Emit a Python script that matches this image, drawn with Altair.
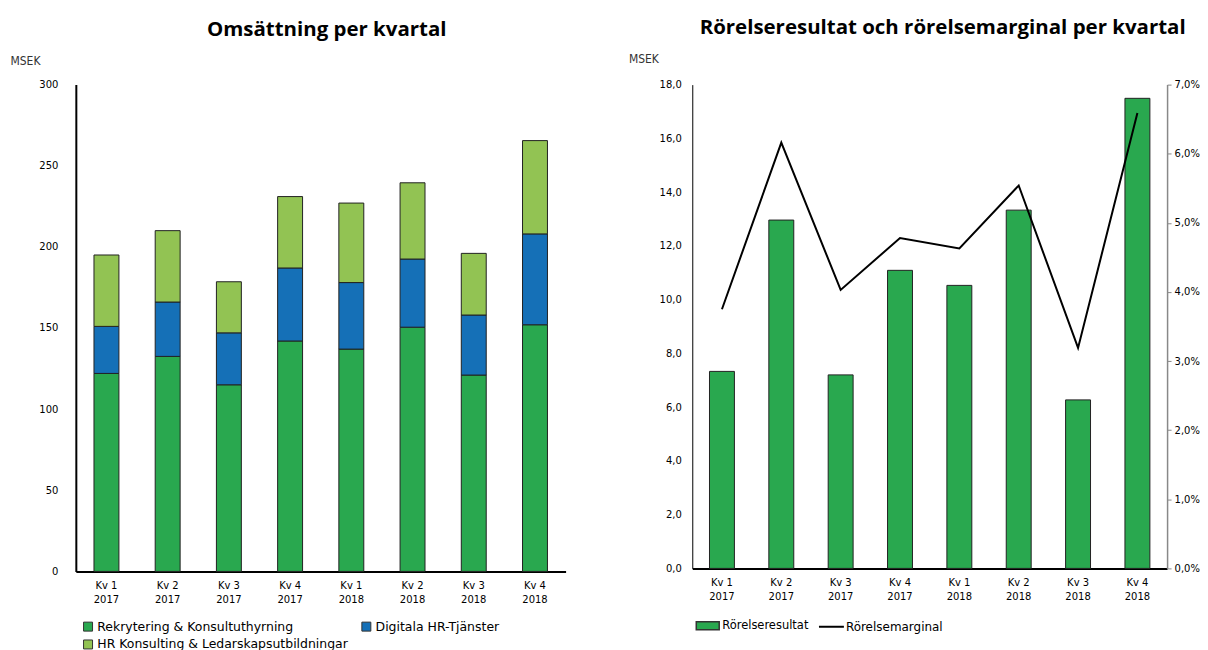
import altair as alt
import pandas as pd

# ---------------- data ----------------
quarters = ["Kv 1|2017", "Kv 2|2017", "Kv 3|2017", "Kv 4|2017",
            "Kv 1|2018", "Kv 2|2018", "Kv 3|2018", "Kv 4|2018"]
segments = ["Rekrytering & Konsultuthyrning", "Digitala HR-Tjänster",
            "HR Konsulting & Ledarskapsutbildningar"]
rekrytering = [122, 132.5, 115, 142, 137, 150.5, 121, 152]
digitala = [29, 33.5, 32, 45, 41, 42, 37, 56]
hr_konsulting = [44, 44, 31.5, 44, 49, 47, 38, 57.5]
segment_colors = ["#29A84F", "#1570B7", "#92C353"]

series_names = ["Rörelseresultat", "Rörelsemarginal"]
rorelseresultat = [7.33, 12.96, 7.20, 11.09, 10.53, 13.33, 6.27, 17.49]
rorelsemarginal = [0.0375, 0.0616, 0.0403, 0.0478, 0.0463, 0.0554, 0.0319, 0.0659]

left_ticks = [0, 50, 100, 150, 200, 250, 300]
right_ticks = [0, 2, 4, 6, 8, 10, 12, 14, 16, 18]
pct_ticks = [0, 0.01, 0.02, 0.03, 0.04, 0.05, 0.06, 0.07]

# ---------------- tables ----------------
rows = []
for i, q in enumerate(quarters):
    for k, (seg, vals) in enumerate(zip(segments, [rekrytering, digitala, hr_konsulting])):
        rows.append({"kvartal": q, "segment": seg, "value": vals[i], "ord": k})
df_seg = pd.DataFrame(rows)

df_r = pd.DataFrame({"kvartal": quarters, "resultat": rorelseresultat,
                     "marginal": rorelsemarginal,
                     "s_bar": [series_names[0]] * len(quarters),
                     "s_line": [series_names[1]] * len(quarters)})

FONT = "DejaVu Sans"
MSEK_FONT = "'DejaVu Sans Condensed', 'Liberation Sans Narrow', Roboto, sans-serif"

x_axis = alt.Axis(title=None, labelAngle=0, labelExpr="split(datum.label, '|')",
                  labelLineHeight=14, ticks=False, labelPadding=9,
                  domainColor="#000", domainWidth=2, labelFont=FONT,
                  labelFontSize=10, labelColor="#000")

# ---------------- left chart ----------------
left = alt.Chart(df_seg, title=alt.Title("Omsättning  per kvartal", dx=6)).mark_bar(
    size=25, stroke="#222", strokeWidth=1
).encode(
    x=alt.X("kvartal:N", sort=quarters, axis=x_axis),
    y=alt.Y("value:Q", stack="zero", scale=alt.Scale(domain=[0, 300], nice=False),
            axis=alt.Axis(values=left_ticks, title="MSEK", titleAngle=0,
                          titleX=-66, titleY=-24, titleAlign="left",
                          titleBaseline="middle", titleFont=MSEK_FONT,
                          titleFontSize=12, titleFontWeight="normal", titleColor="#333",
                          ticks=False, labelPadding=18, domainColor="#000",
                          domainWidth=2, grid=False, labelFont=FONT,
                          labelFontSize=10, labelColor="#000")),
    color=alt.Color("segment:N", scale=alt.Scale(domain=segments, range=segment_colors),
                    legend=alt.Legend(title=None, orient="none", legendX=6, legendY=537,
                                      direction="horizontal",
                                      columns=2, symbolType="square", symbolSize=81,
                                      symbolStrokeColor="#333", symbolStrokeWidth=1,
                                      labelFont=FONT, labelFontSize=12.5, labelColor="#000",
                                      labelLimit=400, columnPadding=10, rowPadding=4,
                                      padding=0, labelOffset=3)),
    order=alt.Order("ord:Q"),
).properties(width=491, height=488)

# ---------------- right chart ----------------
base = alt.Chart(df_r).encode(x=alt.X("kvartal:N", sort=quarters, axis=x_axis))

bars = base.mark_bar(size=25, stroke="#222", strokeWidth=1).encode(
    y=alt.Y("resultat:Q", scale=alt.Scale(domain=[0, 18], nice=False),
            axis=alt.Axis(values=right_ticks,
                          labelExpr="replace(format(datum.value, '.1f'), '.', ',')",
                          title="MSEK", titleAngle=0, titleX=-64, titleY=-26,
                          titleAlign="left", titleBaseline="middle",
                          titleFont=MSEK_FONT, titleFontSize=12,
                          titleFontWeight="normal", titleColor="#333",
                          ticks=False, labelPadding=11, domainColor="#000",
                          domainWidth=1, grid=False, labelFont=FONT,
                          labelFontSize=10, labelColor="#000")),
    fill=alt.Fill("s_bar:N",
                  scale=alt.Scale(domain=[series_names[0]], range=["#29A84F"]),
                  legend=alt.Legend(title=None, orient="none", legendX=3, legendY=530,
                                    symbolType="M-1,-0.35H1V0.35H-1Z",
                                    symbolSize=529, symbolStrokeColor="#333",
                                    symbolStrokeWidth=1.5, labelFont=FONT,
                                    labelFontSize=11.5, labelColor="#000",
                                    padding=0, labelOffset=2)),
)

line = base.mark_line(strokeWidth=2).encode(
    y=alt.Y("marginal:Q", scale=alt.Scale(domain=[0, 0.07], nice=False),
            axis=alt.Axis(values=pct_ticks, orient="right",
                          labelExpr="replace(format(datum.value, '.1%'), '.', ',')",
                          title=None, ticks=True, tickSize=4, tickColor="#888",
                          domainColor="#888", domainWidth=1.5, labelPadding=3,
                          grid=False, labelFont=FONT, labelFontSize=10,
                          labelColor="#000")),
    stroke=alt.Stroke("s_line:N",
                      scale=alt.Scale(domain=[series_names[1]], range=["#000"]),
                      legend=alt.Legend(title=None, orient="none", legendX=126,
                                        legendY=530, symbolType="stroke",
                                        symbolSize=625, symbolStrokeWidth=2,
                                        labelFont=FONT, labelFontSize=12,
                                        labelColor="#000", padding=0,
                                        labelOffset=1)),
)

right = alt.layer(bars, line, title=alt.Title(
    "Rörelseresultat och rörelsemarginal per kvartal", dx=13)).resolve_scale(
    y="independent").properties(width=476, height=485)

chart = alt.hconcat(left, right, spacing=63).resolve_scale(
    color="independent", fill="independent", stroke="independent"
).resolve_legend(
    color="independent", fill="independent", stroke="independent"
).properties(
    padding={"left": 2, "top": 9, "right": 0, "bottom": 0}
).configure_view(stroke=None).configure_title(
    font="Open Sans", fontSize=20.5, fontWeight="bold", color="#000",
    anchor="middle", offset=14
)

chart.save("out.html", embed_options={"renderer": "svg", "actions": False})
